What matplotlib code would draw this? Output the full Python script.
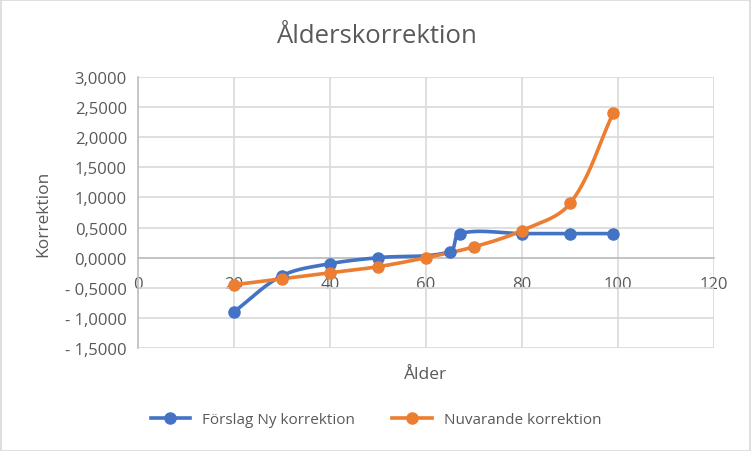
import numpy as np
import matplotlib
matplotlib.use("Agg")
import matplotlib.pyplot as plt
from matplotlib.ticker import FuncFormatter

plt.rcParams['font.family'] = ['Open Sans', 'DejaVu Sans']

# data
alder_ny = [20, 30, 40, 50, 65, 67, 80, 90, 99]
korr_ny = [-0.9, -0.3, -0.1, 0.0, 0.1, 0.4, 0.4, 0.4, 0.4]
alder_nu = [20, 30, 40, 50, 60, 70, 80, 90, 99]
korr_nu = [-0.45, -0.35, -0.25, -0.15, 0.0, 0.18, 0.45, 0.9, 2.4]

BLUE = "#4472C4"
ORANGE = "#ED7D31"
TXT = "#595959"
GRID = "#D9D9D9"

# rough px per data unit, so the smoothing works in screen space
SX, SY = 576 / 120, 271 / 4.5


def smooth(xs, ys, n=40):
    # excel-like bezier smoothing, tangent length scaled to segment length
    p = np.column_stack([np.array(xs) * SX, np.array(ys) * SY]).astype(float)
    out = [p[0]]
    for i in range(len(p) - 1):
        p0 = p[i - 1] if i > 0 else p[i]
        p1 = p[i]
        p2 = p[i + 1]
        p3 = p[i + 2] if i + 2 < len(p) else p[i + 1]
        seg_len = np.linalg.norm(p2 - p1)
        d1 = p2 - p0
        d2 = p3 - p1
        d1 = d1 / (np.linalg.norm(d1) or 1)
        d2 = d2 / (np.linalg.norm(d2) or 1)
        c1 = p1 + d1 * seg_len / 3
        c2 = p2 - d2 * seg_len / 3
        t = np.linspace(0, 1, n)[1:, None]
        seg = ((1 - t) ** 3) * p1 + 3 * ((1 - t) ** 2) * t * c1 + 3 * (1 - t) * t ** 2 * c2 + t ** 3 * p2
        out.extend(seg)
    out = np.array(out)
    return out[:, 0] / SX, out[:, 1] / SY


def fmt(v, pos):
    s = f"{abs(v):.4f}".replace(".", ",")
    return ("- " + s) if v < -1e-9 else s


fig = plt.figure(figsize=(7.52, 4.52), dpi=100)
ax = fig.add_axes([0.1835, 0.2279, 0.766, 0.5995])

for xs, ys, c, lab in [(alder_ny, korr_ny, BLUE, "Förslag Ny korrektion"),
                       (alder_nu, korr_nu, ORANGE, "Nuvarande korrektion")]:
    sx, sy = smooth(xs, ys)
    ax.plot(sx, sy, color=c, lw=2.6, zorder=3)
    ax.plot(xs, ys, 'o', color=c, ms=8, zorder=4)
    ax.plot([], [], '-o', color=c, lw=2.6, ms=8, label=lab)

ax.set_xlim(0, 120)
ax.set_ylim(-1.5, 3.0)
ax.set_xticks(range(0, 121, 20))
ax.set_yticks(np.arange(-1.5, 3.01, 0.5))
ax.yaxis.set_major_formatter(FuncFormatter(fmt))
ax.grid(True, color=GRID, lw=1.2, zorder=0)
ax.set_axisbelow(True)

for s in ['top', 'right']:
    ax.spines[s].set_visible(False)
ax.spines['bottom'].set_position(('data', 0))
ax.spines['bottom'].set_color("#BFBFBF")
ax.spines['left'].set_color("#BFBFBF")
ax.spines['bottom'].set_linewidth(1.2)
ax.spines['left'].set_linewidth(1.2)
ax.tick_params(axis='both', length=0, colors=TXT, labelsize=12)
ax.tick_params(axis='x', pad=13)
ax.tick_params(axis='y', pad=8)

ax.set_xlabel("Ålder", color=TXT, fontsize=12.5)
ax.xaxis.set_label_coords(0.5, -0.065)
ax.set_ylabel("Korrektion", color=TXT, fontsize=12.5)
ax.yaxis.set_label_coords(-0.15, 0.5)

fig.suptitle("Ålderskorrektion", color=TXT, fontsize=18.5, y=0.948)

leg = fig.legend(loc='center', bbox_to_anchor=(0.5, 0.07), ncol=2, frameon=False,
                 fontsize=11, handlelength=2.6, columnspacing=2.4, labelcolor=TXT)

fig.patches.append(plt.Rectangle((0.001, 0.001), 0.997, 0.997, transform=fig.transFigure,
                                 fill=False, edgecolor="#D9D9D9", lw=1.2))

fig.savefig("out.png", dpi=100)
